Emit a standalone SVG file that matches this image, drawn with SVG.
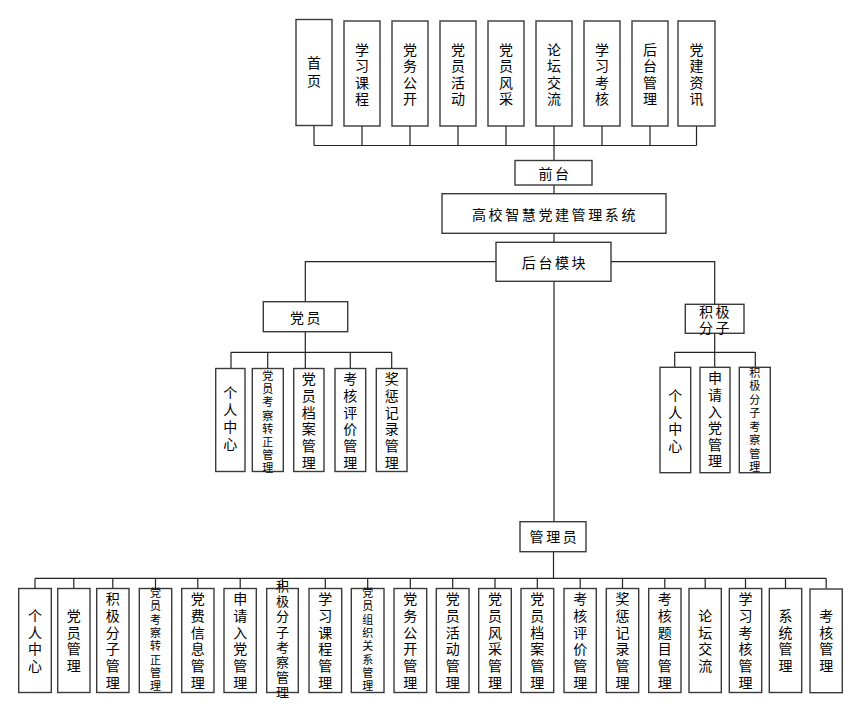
<svg xmlns="http://www.w3.org/2000/svg" width="858" height="713" viewBox="0 0 858 713">
<style>
.b{fill:#fff;stroke:#3a3a3a;stroke-width:1.4}
.c{fill:none;stroke:#222;stroke-width:1.2}
text{font-family:"Noto Sans CJK SC","Noto Sans",sans-serif;font-size:14px;fill:#000;text-anchor:middle;dominant-baseline:central}
.s{font-size:11px}
.m{font-size:13px}
.h{letter-spacing:2.6px}
</style>
<rect width="858" height="713" fill="#fff"/>
<g id="connectors" class="c">
<path d="M314 125.5V145.5M362 126V145.5M410 126V145.5M458 126V145.5M506 126V145.5M554 126V145.5M602 126V145.5M650 126V145.5M696.5 126V145.5M314 145.5H696.5M554 145.5V160.5"/>
<path d="M554 185V193.7M554 233.3V242.3M554 281.3V521.7"/>
<path d="M496 261.7H305.3V301.7M611 261.7H714.7V304.3"/>
<path d="M305.3 331.7V352.3M231 352.3H391.7M231 352.3V368.5M267.7 352.3V368.5M305.3 352.3V368.5M350.3 352.3V368.5M391.7 352.3V368.5"/>
<path d="M714.7 333.3V352.3M674.7 352.3H755.3M674.7 352.3V367.3M714.7 352.3V367.3M755.3 352.3V367.3"/>
<path d="M553.5 551.7V578.3M35 578.3H826.2M35 578.3V588.5M73.8 578.3V588.5M112.8 578.3V588.5M155.5 578.3V588.5M197.8 578.3V588.5M240.2 578.3V588.5M282.5 578.3V588.5M325.3 578.3V588.5M367.7 578.3V588.5M410.3 578.3V588.5M452.7 578.3V588.5M495 578.3V588.5M537.3 578.3V588.5M580.2 578.3V588.5M622.5 578.3V588.5M664.8 578.3V588.5M705.2 578.3V588.5M745.5 578.3V588.5M785.5 578.3V588.5M826.2 578.3V588.5"/>
</g>
<g id="n-shouye"><rect class="b" x="296" y="19.5" width="36" height="106"/><text><tspan x="314" y="62">首</tspan><tspan x="314" y="80">页</tspan></text></g>
<g id="n-xxkc"><rect class="b" x="344" y="21" width="36" height="105"/><text><tspan x="362" y="48.5">学</tspan><tspan x="362" y="65">习</tspan><tspan x="362" y="81.5">课</tspan><tspan x="362" y="98">程</tspan></text></g>
<g id="n-dwgk"><rect class="b" x="392" y="21" width="36" height="105"/><text><tspan x="410" y="48.5">党</tspan><tspan x="410" y="65">务</tspan><tspan x="410" y="81.5">公</tspan><tspan x="410" y="98">开</tspan></text></g>
<g id="n-dyhd"><rect class="b" x="440" y="21" width="36" height="105"/><text><tspan x="458" y="48.5">党</tspan><tspan x="458" y="65">员</tspan><tspan x="458" y="81.5">活</tspan><tspan x="458" y="98">动</tspan></text></g>
<g id="n-dyfc"><rect class="b" x="488" y="21" width="36" height="105"/><text><tspan x="506" y="48.5">党</tspan><tspan x="506" y="65">员</tspan><tspan x="506" y="81.5">风</tspan><tspan x="506" y="98">采</tspan></text></g>
<g id="n-ltjl"><rect class="b" x="536" y="21" width="36" height="105"/><text><tspan x="554" y="48.5">论</tspan><tspan x="554" y="65">坛</tspan><tspan x="554" y="81.5">交</tspan><tspan x="554" y="98">流</tspan></text></g>
<g id="n-xxkh"><rect class="b" x="584" y="21" width="36" height="105"/><text><tspan x="602" y="48.5">学</tspan><tspan x="602" y="65">习</tspan><tspan x="602" y="81.5">考</tspan><tspan x="602" y="98">核</tspan></text></g>
<g id="n-htgl"><rect class="b" x="632" y="21" width="36" height="105"/><text><tspan x="650" y="48.5">后</tspan><tspan x="650" y="65">台</tspan><tspan x="650" y="81.5">管</tspan><tspan x="650" y="98">理</tspan></text></g>
<g id="n-djzx"><rect class="b" x="678" y="21" width="37" height="105"/><text><tspan x="696.5" y="48.5">党</tspan><tspan x="696.5" y="65">建</tspan><tspan x="696.5" y="81.5">资</tspan><tspan x="696.5" y="98">讯</tspan></text></g>
<g id="n-qiantai"><rect class="b" x="515" y="160.5" width="77" height="24.5"/><text class="h" x="555" y="173">前台</text></g>
<g id="n-system"><rect class="b" x="442" y="193.7" width="224" height="39.6"/><text class="h" x="555" y="213.5">高校智慧党建管理系统</text></g>
<g id="n-houtai"><rect class="b" x="496" y="242.3" width="115" height="39"/><text class="h" x="555" y="262">后台模块</text></g>
<g id="n-dangyuan"><rect class="b" x="263.3" y="301.7" width="84.4" height="30"/><text class="h" x="306.5" y="317">党员</text></g>
<g id="n-jjfz"><rect class="b" x="685.3" y="304.3" width="58.7" height="29"/><text class="h"><tspan x="715.5" y="310.5">积极</tspan><tspan x="715.5" y="327">分子</tspan></text></g>
<g id="n-guanli"><rect class="b" x="520" y="521.7" width="66" height="30"/><text class="h" x="554.5" y="536">管理员</text></g>

<g id="p-grzx"><rect class="b" x="215.7" y="368.5" width="29.3" height="103"/><text><tspan x="230.3" y="392">个</tspan><tspan x="230.3" y="409">人</tspan><tspan x="230.3" y="426">中</tspan><tspan x="230.3" y="443">心</tspan></text></g>
<g id="p-kczz"><rect class="b" x="252.3" y="368.5" width="31" height="103"/><text class="s"><tspan x="267.8" y="375">党</tspan><tspan x="267.8" y="388.2">员</tspan><tspan x="267.8" y="401.4">考</tspan><tspan x="267.8" y="414.6">察</tspan><tspan x="267.8" y="427.8">转</tspan><tspan x="267.8" y="441">正</tspan><tspan x="267.8" y="454.2">管</tspan><tspan x="267.8" y="467.4">理</tspan></text></g>
<g id="p-dagl"><rect class="b" x="293.7" y="368.5" width="30.3" height="103"/><text><tspan x="308.8" y="378.3">党</tspan><tspan x="308.8" y="395">员</tspan><tspan x="308.8" y="411.7">档</tspan><tspan x="308.8" y="428.3">案</tspan><tspan x="308.8" y="445">管</tspan><tspan x="308.8" y="461.7">理</tspan></text></g>
<g id="p-khpj"><rect class="b" x="335" y="368.5" width="30.7" height="103"/><text><tspan x="350.3" y="378.3">考</tspan><tspan x="350.3" y="395">核</tspan><tspan x="350.3" y="411.7">评</tspan><tspan x="350.3" y="428.3">价</tspan><tspan x="350.3" y="445">管</tspan><tspan x="350.3" y="461.7">理</tspan></text></g>
<g id="p-jcjl"><rect class="b" x="376.3" y="368.5" width="30.7" height="103"/><text><tspan x="391.7" y="378.3">奖</tspan><tspan x="391.7" y="395">惩</tspan><tspan x="391.7" y="411.7">记</tspan><tspan x="391.7" y="428.3">录</tspan><tspan x="391.7" y="445">管</tspan><tspan x="391.7" y="461.7">理</tspan></text></g>

<g id="j-grzx"><rect class="b" x="660" y="367.3" width="30.7" height="105.4"/><text><tspan x="675.3" y="395">个</tspan><tspan x="675.3" y="411.5">人</tspan><tspan x="675.3" y="428">中</tspan><tspan x="675.3" y="444.5">心</tspan></text></g>
<g id="j-sqrd"><rect class="b" x="700" y="367.3" width="30" height="105.4"/><text><tspan x="715" y="377.3">申</tspan><tspan x="715" y="393.9">请</tspan><tspan x="715" y="410.5">入</tspan><tspan x="715" y="427.1">党</tspan><tspan x="715" y="443.7">管</tspan><tspan x="715" y="460.3">理</tspan></text></g>
<g id="j-jjkc"><rect class="b" x="739.3" y="367.3" width="31" height="105.4"/><text class="s"><tspan x="754.8" y="371.7">积</tspan><tspan x="754.8" y="385.2">极</tspan><tspan x="754.8" y="398.7">分</tspan><tspan x="754.8" y="412.2">子</tspan><tspan x="754.8" y="425.7">考</tspan><tspan x="754.8" y="439.2">察</tspan><tspan x="754.8" y="452.7">管</tspan><tspan x="754.8" y="466.2">理</tspan></text></g>

<g id="a01"><rect class="b" x="18.7" y="588.5" width="32.6" height="104"/><text><tspan x="35" y="615">个</tspan><tspan x="35" y="631.7">人</tspan><tspan x="35" y="648.3">中</tspan><tspan x="35" y="665">心</tspan></text></g>
<g id="a02"><rect class="b" x="57.7" y="588.5" width="32.3" height="104"/><text><tspan x="73.8" y="615">党</tspan><tspan x="73.8" y="631.7">员</tspan><tspan x="73.8" y="648.3">管</tspan><tspan x="73.8" y="665">理</tspan></text></g>
<g id="a03"><rect class="b" x="96.7" y="588.5" width="32.3" height="104"/><text><tspan x="112.8" y="598.3">积</tspan><tspan x="112.8" y="615">极</tspan><tspan x="112.8" y="631.7">分</tspan><tspan x="112.8" y="648.3">子</tspan><tspan x="112.8" y="665">管</tspan><tspan x="112.8" y="681.7">理</tspan></text></g>
<g id="a04"><rect class="b" x="139.3" y="588.5" width="32.4" height="104"/><text class="s"><tspan x="155.5" y="592">党</tspan><tspan x="155.5" y="605.3">员</tspan><tspan x="155.5" y="618.6">考</tspan><tspan x="155.5" y="631.9">察</tspan><tspan x="155.5" y="645.2">转</tspan><tspan x="155.5" y="658.5">正</tspan><tspan x="155.5" y="671.8">管</tspan><tspan x="155.5" y="685.1">理</tspan></text></g>
<g id="a05"><rect class="b" x="181.7" y="588.5" width="32.3" height="104"/><text><tspan x="197.8" y="598.3">党</tspan><tspan x="197.8" y="615">费</tspan><tspan x="197.8" y="631.7">信</tspan><tspan x="197.8" y="648.3">息</tspan><tspan x="197.8" y="665">管</tspan><tspan x="197.8" y="681.7">理</tspan></text></g>
<g id="a06"><rect class="b" x="224" y="588.5" width="32.3" height="104"/><text><tspan x="240.2" y="598.3">申</tspan><tspan x="240.2" y="615">请</tspan><tspan x="240.2" y="631.7">入</tspan><tspan x="240.2" y="648.3">党</tspan><tspan x="240.2" y="665">管</tspan><tspan x="240.2" y="681.7">理</tspan></text></g>
<g id="a07"><rect class="b" x="266.7" y="588.5" width="31.6" height="104"/><text class="m"><tspan x="282.5" y="585">积</tspan><tspan x="282.5" y="600.2">极</tspan><tspan x="282.5" y="615.4">分</tspan><tspan x="282.5" y="630.6">子</tspan><tspan x="282.5" y="645.8">考</tspan><tspan x="282.5" y="661">察</tspan><tspan x="282.5" y="676.2">管</tspan><tspan x="282.5" y="691.4">理</tspan></text></g>
<g id="a08"><rect class="b" x="309" y="588.5" width="32.7" height="104"/><text><tspan x="325.3" y="598.3">学</tspan><tspan x="325.3" y="615">习</tspan><tspan x="325.3" y="631.7">课</tspan><tspan x="325.3" y="648.3">程</tspan><tspan x="325.3" y="665">管</tspan><tspan x="325.3" y="681.7">理</tspan></text></g>
<g id="a09"><rect class="b" x="351.3" y="588.5" width="32.7" height="104"/><text class="s"><tspan x="367.7" y="592">党</tspan><tspan x="367.7" y="605.3">员</tspan><tspan x="367.7" y="618.6">组</tspan><tspan x="367.7" y="631.9">织</tspan><tspan x="367.7" y="645.2">关</tspan><tspan x="367.7" y="658.5">系</tspan><tspan x="367.7" y="671.8">管</tspan><tspan x="367.7" y="685.1">理</tspan></text></g>
<g id="a10"><rect class="b" x="394" y="588.5" width="32.7" height="104"/><text><tspan x="410.3" y="598.3">党</tspan><tspan x="410.3" y="615">务</tspan><tspan x="410.3" y="631.7">公</tspan><tspan x="410.3" y="648.3">开</tspan><tspan x="410.3" y="665">管</tspan><tspan x="410.3" y="681.7">理</tspan></text></g>
<g id="a11"><rect class="b" x="436.3" y="588.5" width="32.7" height="104"/><text><tspan x="452.7" y="598.3">党</tspan><tspan x="452.7" y="615">员</tspan><tspan x="452.7" y="631.7">活</tspan><tspan x="452.7" y="648.3">动</tspan><tspan x="452.7" y="665">管</tspan><tspan x="452.7" y="681.7">理</tspan></text></g>
<g id="a12"><rect class="b" x="478.7" y="588.5" width="32.6" height="104"/><text><tspan x="495" y="598.3">党</tspan><tspan x="495" y="615">员</tspan><tspan x="495" y="631.7">风</tspan><tspan x="495" y="648.3">采</tspan><tspan x="495" y="665">管</tspan><tspan x="495" y="681.7">理</tspan></text></g>
<g id="a13"><rect class="b" x="521" y="588.5" width="32.7" height="104"/><text><tspan x="537.3" y="598.3">党</tspan><tspan x="537.3" y="615">员</tspan><tspan x="537.3" y="631.7">档</tspan><tspan x="537.3" y="648.3">案</tspan><tspan x="537.3" y="665">管</tspan><tspan x="537.3" y="681.7">理</tspan></text></g>
<g id="a14"><rect class="b" x="564" y="588.5" width="32.3" height="104"/><text><tspan x="580.2" y="598.3">考</tspan><tspan x="580.2" y="615">核</tspan><tspan x="580.2" y="631.7">评</tspan><tspan x="580.2" y="648.3">价</tspan><tspan x="580.2" y="665">管</tspan><tspan x="580.2" y="681.7">理</tspan></text></g>
<g id="a15"><rect class="b" x="606.3" y="588.5" width="32.4" height="104"/><text><tspan x="622.5" y="598.3">奖</tspan><tspan x="622.5" y="615">惩</tspan><tspan x="622.5" y="631.7">记</tspan><tspan x="622.5" y="648.3">录</tspan><tspan x="622.5" y="665">管</tspan><tspan x="622.5" y="681.7">理</tspan></text></g>
<g id="a16"><rect class="b" x="648.7" y="588.5" width="32.3" height="104"/><text><tspan x="664.8" y="598.3">考</tspan><tspan x="664.8" y="615">核</tspan><tspan x="664.8" y="631.7">题</tspan><tspan x="664.8" y="648.3">目</tspan><tspan x="664.8" y="665">管</tspan><tspan x="664.8" y="681.7">理</tspan></text></g>
<g id="a17"><rect class="b" x="689" y="588.5" width="32.3" height="104"/><text><tspan x="705.2" y="615">论</tspan><tspan x="705.2" y="631.7">坛</tspan><tspan x="705.2" y="648.3">交</tspan><tspan x="705.2" y="665">流</tspan></text></g>
<g id="a18"><rect class="b" x="729.3" y="588.5" width="32.4" height="104"/><text><tspan x="745.5" y="598.3">学</tspan><tspan x="745.5" y="615">习</tspan><tspan x="745.5" y="631.7">考</tspan><tspan x="745.5" y="648.3">核</tspan><tspan x="745.5" y="665">管</tspan><tspan x="745.5" y="681.7">理</tspan></text></g>
<g id="a19"><rect class="b" x="769.3" y="588.5" width="32.4" height="104"/><text><tspan x="785.5" y="615">系</tspan><tspan x="785.5" y="631.7">统</tspan><tspan x="785.5" y="648.3">管</tspan><tspan x="785.5" y="665">理</tspan></text></g>
<g id="a20"><rect class="b" x="810" y="589" width="32.3" height="103.7"/><text><tspan x="826.2" y="615">考</tspan><tspan x="826.2" y="631.7">核</tspan><tspan x="826.2" y="648.3">管</tspan><tspan x="826.2" y="665">理</tspan></text></g>
</svg>
